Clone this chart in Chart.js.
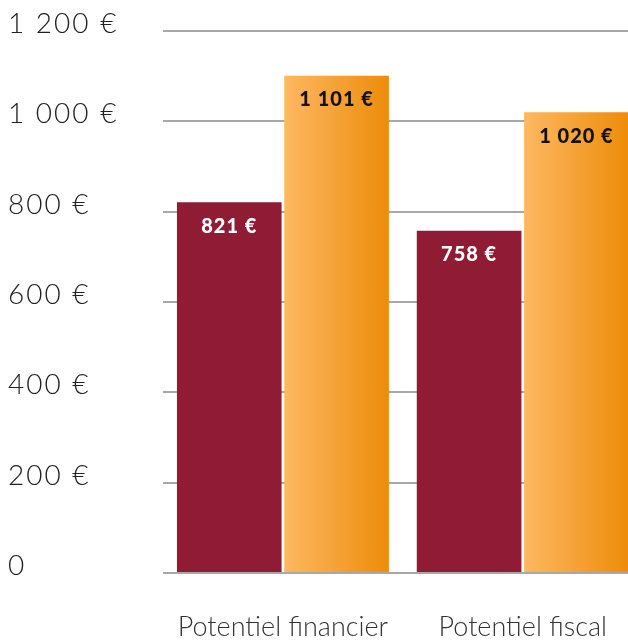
<!DOCTYPE html>
<html>
<head>
<meta charset="utf-8">
<script src="https://cdn.jsdelivr.net/npm/chart.js@4"></script>
<style>
  html, body { margin: 0; padding: 0; background: #fff; overflow: hidden; }
</style>
</head>
<body>
<canvas id="c" width="645" height="641"></canvas>
<script>
// données
const categories = ['Potentiel financier', 'Potentiel fiscal'];
const serieA = [821, 758];
const serieB = [1101, 1020];
const yTickLabels = ['0', '200 €', '400 €', '600 €', '800 €', '1 000 €', '1 200 €'];

function formatEuro(v) {
    const s = String(v);
    if (s.length > 3) return s.slice(0, s.length - 3) + ' ' + s.slice(-3) + ' €';
    return s + ' €';
}

// dégradé orange par barre + étiquettes dans les barres
const barPlugin = {
    id: 'barPlugin',
    afterLayout(chart) {
        // espacement des lettres pour les graduations de l'axe Y
        const y = chart.scales.y;
        if (y && !y._patched) {
            const orig = y.drawLabels;
            y.drawLabels = function (area) {
                const ctx = this.ctx;
                ctx.save();
                ctx.letterSpacing = '2px';
                orig.call(this, area);
                ctx.restore();
            };
            y._patched = true;
        }
    },
    beforeDatasetsDraw(chart) {
        const ctx = chart.ctx;
        chart.getDatasetMeta(1).data.forEach(bar => {
            const left = bar.x - bar.width / 2;
            const g = ctx.createLinearGradient(left, 0, left + bar.width, 0);
            g.addColorStop(0, '#fdb861');
            g.addColorStop(1, '#ed8c09');
            const opts = Object.create(bar.options);
            opts.backgroundColor = g;
            bar.options = opts;
        });
    },
    afterDatasetsDraw(chart) {
        const ctx = chart.ctx;
        ctx.save();
        ctx.font = '900 20px Lato';
        ctx.letterSpacing = '1px';
        ctx.textAlign = 'center';
        ctx.textBaseline = 'middle';
        chart.data.datasets.forEach((ds, i) => {
            chart.getDatasetMeta(i).data.forEach((bar, j) => {
                ctx.fillStyle = i === 0 ? '#ffffff' : '#111111';
                ctx.fillText(formatEuro(ds.data[j]), bar.x, bar.y + 24);
            });
        });
        ctx.restore();
    }
};

new Chart(document.getElementById('c'), {
    type: 'bar',
    data: {
        labels: categories,
        datasets: [{
            data: serieA,
            backgroundColor: '#8f1b34'
        }, {
            data: serieB,
            backgroundColor: '#f5a030'
        }]
    },
    options: {
        responsive: false,
        devicePixelRatio: 1,
        animation: false,
        categoryPercentage: 0.895,
        barPercentage: 0.975,
        layout: { padding: { left: 8, top: 31, right: 0, bottom: 0 } },
        plugins: {
            legend: { display: false },
            tooltip: { enabled: false }
        },
        scales: {
            x: {
                grid: { display: false, drawTicks: false },
                border: { display: false },
                ticks: {
                    color: '#333',
                    font: { family: 'Lato', size: 27, weight: '300' },
                    padding: 38
                },
                afterFit(scale) { scale.height = 68; }
            },
            y: {
                min: 0,
                max: 1200,
                grid: { color: '#a8a8a8', lineWidth: 2, drawTicks: false },
                border: { display: false },
                ticks: {
                    stepSize: 200,
                    crossAlign: 'far',
                    labelOffset: -7,
                    color: '#222',
                    font: { family: 'Lato', size: 28, weight: '300' },
                    callback: (v) => yTickLabels[v / 200]
                },
                afterFit(scale) { scale.width = 155; }
            }
        }
    },
    plugins: [barPlugin]
});
</script>
</body>
</html>
